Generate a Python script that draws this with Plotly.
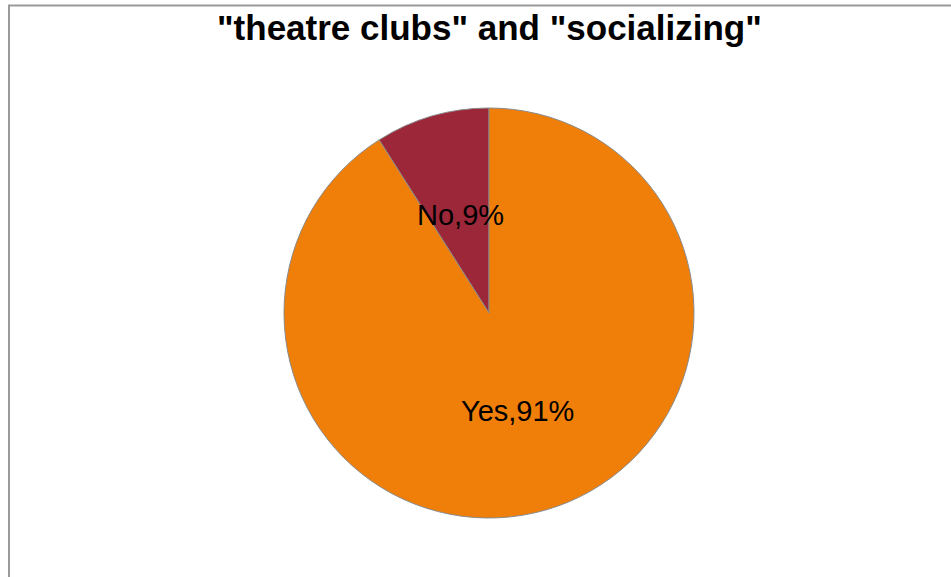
import math
import plotly.graph_objects as go

# Survey answers for "theatre clubs" and "socializing"
labels = ["No", "Yes"]
values = [9, 91]
colors = ["#9C2738", "#F07F09"]
title_text = '"theatre clubs" and "socializing"'

W, H = 951, 577
cx, cy, R = 489, 313, 205  # pie centre and radius in pixels

dom_x = [(cx - R) / W, (cx + R) / W]
dom_y = [1 - (cy + R) / H, 1 - (cy - R) / H]

fig = go.Figure(go.Pie(
    labels=labels,
    values=values,
    marker=dict(colors=colors, line=dict(color="#8a8a8a", width=1)),
    sort=False,
    direction="clockwise",
    rotation=-360 * values[0] / sum(values),
    textinfo="none",
    hoverinfo="label+percent",
    showlegend=False,
    domain=dict(x=dom_x, y=dom_y),
))

# Data labels at half radius on each slice's middle angle
total = sum(values)
start = 0.0
annotations = []
for lab, v in zip(labels, values):
    frac = v / total
    mid = (start + frac / 2) * 2 * math.pi  # counterclockwise from 12 o'clock
    px = cx - 0.5 * R * math.sin(mid)
    py = cy - 0.5 * R * math.cos(mid)
    annotations.append(dict(
        x=px / W, y=1 - py / H, xref="paper", yref="paper",
        text=f"{lab},{round(frac * 100)}%", showarrow=False,
        font=dict(family="Liberation Sans, Arial", size=29, color="#000000"),
        xanchor="center", yanchor="middle",
    ))
    start += frac

# Title
annotations.append(dict(
    x=cx / W, y=1 - 27 / H, xref="paper", yref="paper",
    text=f"<b>{title_text}</b>", showarrow=False,
    font=dict(family="Liberation Sans, Arial", size=35, color="#000000"),
    xanchor="center", yanchor="middle",
))

fig.update_layout(
    width=W, height=H,
    margin=dict(l=0, r=0, t=0, b=0),
    paper_bgcolor="#FFFFFF",
    plot_bgcolor="#FFFFFF",
    annotations=annotations,
    shapes=[dict(
        type="rect", xref="paper", yref="paper",
        x0=9 / W, x1=1.02, y0=-0.02, y1=1 - 5.5 / H,
        line=dict(color="#9a9a9a", width=2),
        fillcolor="rgba(0,0,0,0)",
    )],
)

fig.write_html("out.html")
